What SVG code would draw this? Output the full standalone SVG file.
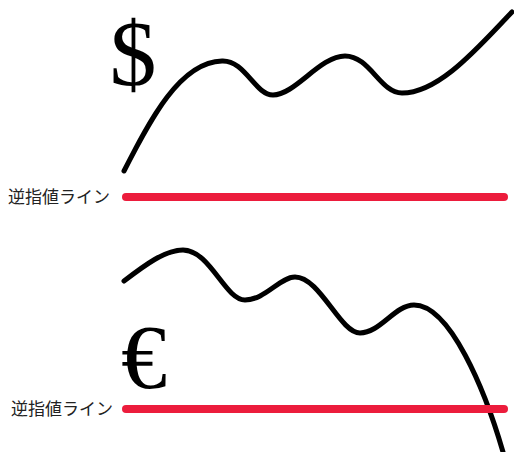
<svg xmlns="http://www.w3.org/2000/svg" width="514" height="452" viewBox="0 0 514 452">
<style>
.curve{fill:none;stroke:#000;stroke-width:5;stroke-linecap:round;stroke-linejoin:round}
.stop{fill:none;stroke:#EC1C3C;stroke-width:8;stroke-linecap:round}
.lbl{font-family:"Noto Sans CJK JP","Noto Sans",sans-serif;font-size:17px;fill:#222}
.cur{font-family:"Liberation Serif","Times New Roman",serif;fill:#000;text-anchor:middle}
</style>
<rect width="514" height="452" fill="#fff"/>
<g id="dollar-chart">
<text class="cur" x="133" y="85" font-size="94">$</text>
<path class="curve" d="M124,171 C150,120 180,62 222,61 C245,60 255,95 273,95 C295,95 320,56 345,56 C370,56 380,93 402,93 C440,93 480,45 512,12"/>
</g>
<g id="dollar-stop">
<line class="stop" x1="126" y1="197" x2="504" y2="197"/>
<text class="lbl" x="8" y="203">逆指値ライン</text>
</g>
<g id="euro-chart">
<text class="cur" x="144" y="388" font-size="92">€</text>
<path class="curve" d="M124,281 C145,265 165,250 183,250 C210,250 225,300 245,300 C265,300 280,277 295,277 C320,277 340,333 360,333 C380,333 395,305 414,305 C450,305 485,390 503,452"/>
</g>
<g id="euro-stop">
<line class="stop" x1="126" y1="409" x2="504" y2="409"/>
<text class="lbl" x="11" y="415">逆指値ライン</text>
</g>
</svg>
